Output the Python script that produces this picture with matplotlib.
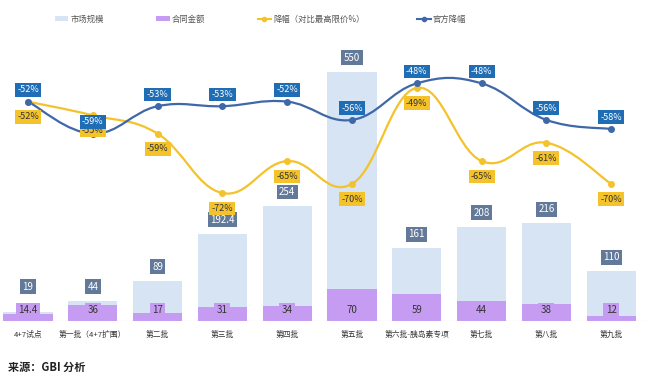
import numpy as np
import matplotlib
matplotlib.use('Agg')
import matplotlib.pyplot as plt
from matplotlib.path import Path
from matplotlib.patches import PathPatch, Patch
from matplotlib.lines import Line2D

plt.rcParams['font.family'] = ['Noto Sans CJK SC', 'DejaVu Sans']

# data
batches = ['4+7试点', '第一批（4+7扩围）', '第二批', '第三批', '第四批',
           '第五批', '第六批-胰岛素专项', '第七批', '第八批', '第九批']
market = [19, 44, 89, 192.4, 254, 550, 161, 208, 216, 110]
contract = [14.4, 36, 17, 31, 34, 70, 59, 44, 38, 12]
cut = [-52, -55, -59, -72, -65, -70, -49, -65, -61, -70]
official = [-52, -59, -53, -53, -52, -56, -48, -48, -56, -58]

c_market = '#d6e4f4'
c_contract = '#c69cf2'
c_cut = '#f4c22b'
c_off = '#3f68a8'

fig = plt.figure(figsize=(6.46, 3.84), dpi=100)
ax = fig.add_axes([0, 0.164, 1, 0.732])
ax2 = ax.twinx()

x = np.arange(len(batches))
w = 0.76
ax.bar(x, market, w, color=c_market, zorder=1)
ax.bar(x, contract, w, color=c_contract, zorder=2)
ax.set_xlim(-0.432, 9.537)
ax.set_ylim(0, 620)
ax2.set_ylim(-100, -38.5)
ax.axhline(0, color='#d8d0e8', lw=0.8)

for a in (ax, ax2):
    for s in a.spines.values():
        s.set_visible(False)
    a.set_yticks([])
ax.set_xticks(x)
ax.set_xticklabels(batches, fontsize=5.6, color='#333333')
ax.tick_params(axis='x', length=0, pad=7)


def smooth_path(xs, ys, k=0.2):
    # cubic bezier through every point (catmull-rom style tangents)
    xs = np.asarray(xs, float)
    ys = np.asarray(ys, float)
    verts = [(xs[0], ys[0])]
    codes = [Path.MOVETO]
    n = len(xs)
    for i in range(n - 1):
        p0 = max(i - 1, 0)
        p3 = min(i + 2, n - 1)
        c1 = (xs[i] + (xs[i + 1] - xs[p0]) * k, ys[i] + (ys[i + 1] - ys[p0]) * k)
        c2 = (xs[i + 1] - (xs[p3] - xs[i]) * k, ys[i + 1] - (ys[p3] - ys[i]) * k)
        verts += [c1, c2, (xs[i + 1], ys[i + 1])]
        codes += [Path.CURVE4] * 3
    return Path(verts, codes)


for vals, col in ((cut, c_cut), (official, c_off)):
    ax2.add_patch(PathPatch(smooth_path(x, vals), fill=False, ec=col, lw=1.6, zorder=3))
    ax2.plot(x, vals, 'o', color=col, ms=4, zorder=4)

box = dict(boxstyle='square,pad=0.25', lw=0)
for i in range(len(x)):
    # keep small-bar labels clear of the contract labels
    ax.annotate(f'{market[i]:g}', (x[i], max(market[i], 45)), xytext=(0, 10), textcoords='offset points',
                ha='center', va='center', fontsize=7, color='white',
                bbox=dict(box, fc='#62799a'), zorder=5)
    ax.text(x[i], 24, f'{contract[i]:g}', ha='center', va='center', fontsize=7,
            color='#333333', bbox=dict(box, fc=c_contract), zorder=5)
    ax2.annotate(f'{cut[i]}%', (x[i], cut[i]), xytext=(0, -11), textcoords='offset points',
                 ha='center', va='center', fontsize=6.5, color='#333333',
                 bbox=dict(box, fc=c_cut), zorder=6)
    ax2.annotate(f'{official[i]}%', (x[i], official[i]), xytext=(0, 8.5), textcoords='offset points',
                 ha='center', va='center', fontsize=6.5, color='white',
                 bbox=dict(box, fc='#1f6db4'), zorder=7)

handles = [Patch(fc=c_market), Patch(fc=c_contract),
           Line2D([], [], color=c_cut, marker='o', ms=3, lw=1.5),
           Line2D([], [], color=c_off, marker='o', ms=3, lw=1.5)]
names = ['市场规模', '合同金额', '降幅（对比最高限价%）', '官方降幅']
fig.legend(handles, names, loc='center left', bbox_to_anchor=(0.0735, 0.95), ncol=4, frameon=False,
           fontsize=6, labelcolor='#555555', handlelength=1.6, handleheight=0.5,
           handletextpad=0.25, columnspacing=6.3)

fig.text(0.012, 0.035, '来源：GBI 分析', fontsize=8, fontweight='bold', color='#222222')

fig.savefig('out.png', dpi=100)
